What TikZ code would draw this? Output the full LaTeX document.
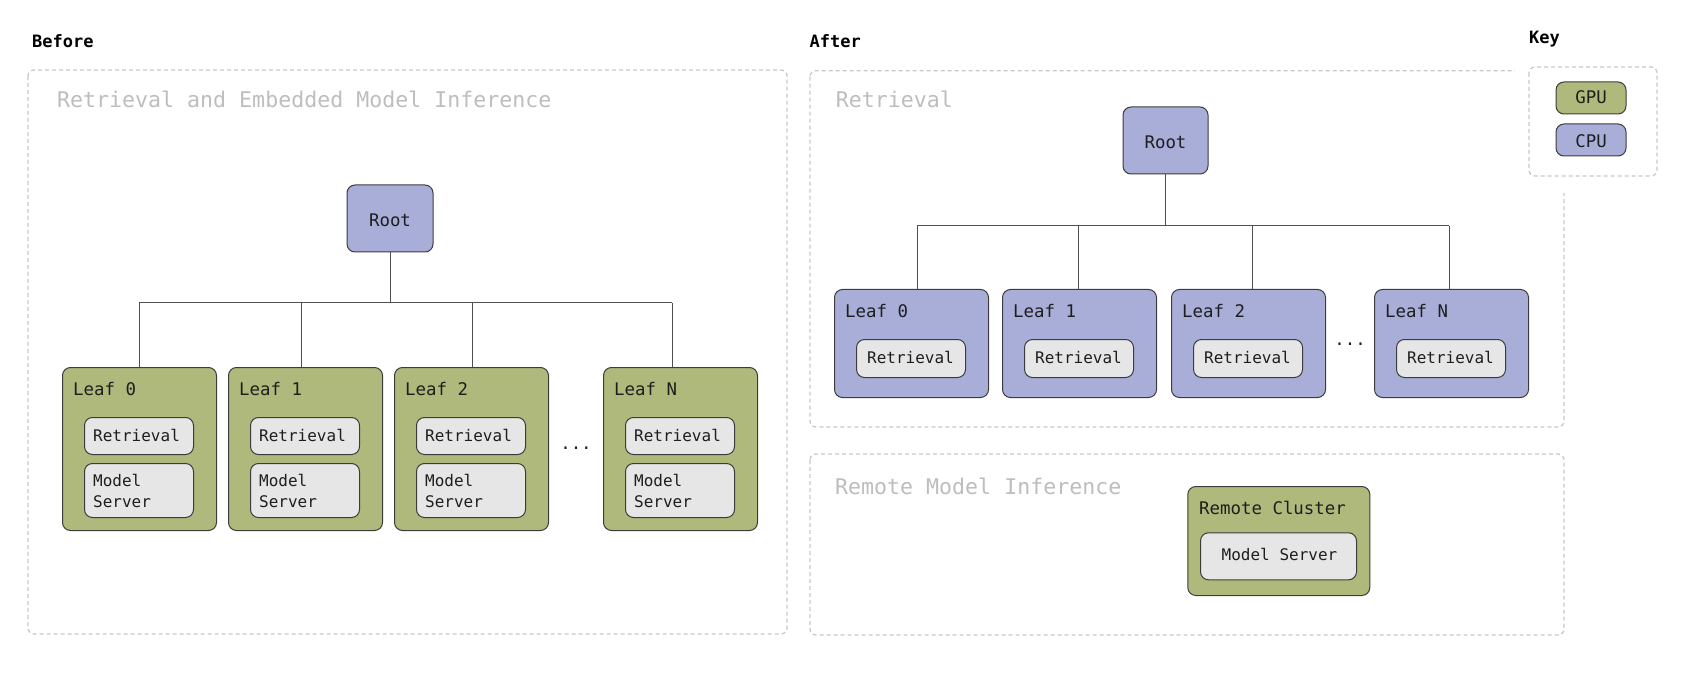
\documentclass[tikz,border=0pt]{standalone}
\usepackage{fontspec}
\setmainfont{DejaVu Sans Mono}
\definecolor{gpuc}{HTML}{B0B97C}
\definecolor{cpuc}{HTML}{A9AED9}
\definecolor{subc}{HTML}{E6E6E6}
\definecolor{bord}{HTML}{3C3C3C}
\definecolor{grpc}{HTML}{C8C8C8}
\definecolor{lblc}{HTML}{BDBDBD}
\definecolor{connc}{HTML}{505050}
\definecolor{txtc}{HTML}{1E1E1E}
\begin{document}
\begin{tikzpicture}[x=1pt,y=-1pt,
  grp/.style={draw=grpc, line width=1.3pt, dash pattern=on 4pt off 3pt, rounded corners=6pt},
  grplabel/.style={anchor=base west, text=lblc, font=\fontsize{21.6}{25}\selectfont, inner sep=0pt},
  heading/.style={anchor=base west, text=black, font=\bfseries\fontsize{17}{20}\selectfont, inner sep=0pt},
  boxbase/.style={draw=bord, line width=1pt, rounded corners=8pt, inner sep=0pt},
  cpubox/.style={boxbase, fill=cpuc},
  gpubox/.style={boxbase, fill=gpuc},
  subbox/.style={boxbase, fill=subc},
  tbig/.style={text=txtc, inner sep=0pt, font=\fontsize{17.4}{20}\selectfont},
  tmid/.style={text=txtc, inner sep=0pt, font=\fontsize{16}{21.7}\selectfont},
  conn/.style={draw=connc, line width=1pt}
]
\useasboundingbox (0,0) rectangle (1692,676);

% ---------------- Before ----------------
\node[heading] (before) at (32,47.3) {Before};
\draw[grp] (28,70) rectangle (787,634);
\node[grplabel] (lblBefore) at (57,107.3) {Retrieval and Embedded Model Inference};

\node[cpubox, minimum width=86, minimum height=67] (rootL) at (390,218.5) {};
\node[tbig, anchor=base] (rootLt) at (390,226.7) {Root};

\foreach \l/\s/\c in {62/0/139, 228/1/301, 394/2/472, 603/N/672} {
  \node[gpubox, minimum width=154, minimum height=163, anchor=north west] (leafL\s) at (\l,367) {};
  \node[tbig, anchor=base west] (leafLt\s) at (\l+11,395.7) {Leaf \s};
  \node[subbox, minimum width=109, minimum height=37, anchor=north west] (retL\s) at (\l+22,417) {};
  \node[tmid, anchor=base west] (retLt\s) at (\l+31,441) {Retrieval};
  \node[subbox, minimum width=109, minimum height=54, anchor=north west] (msL\s) at (\l+22,463) {};
  \node[tmid, anchor=base west, align=left] (msLt\s) at (\l+31,507.7) {Model\\Server};
  \coordinate (cxL\s) at (\c,303);
  \draw[conn] (leafL\s.north -| cxL\s) -- (cxL\s);
}
\draw[conn] (cxL0) -- (cxLN);
\draw[conn] (rootL.south) -- (rootL.south |- cxL0);
\node[tbig, anchor=base] (dotsL) at (576,449) {...};

% ---------------- After ----------------
\node[heading] (after) at (809.5,47.3) {After};
\draw[grp] (810,70.7) rectangle (1564,427);
\node[grplabel] (lblRet) at (835.7,107.3) {Retrieval};

\node[cpubox, minimum width=85, minimum height=67] (rootR) at (1165.5,140.5) {};
\node[tbig, anchor=base] (rootRt) at (1165.5,149) {Root};

\foreach \l/\s/\c in {834/0/917, 1002/1/1078, 1171/2/1252, 1374/N/1449} {
  \node[cpubox, minimum width=154, minimum height=108, anchor=north west] (leafR\s) at (\l,289) {};
  \node[tbig, anchor=base west] (leafRt\s) at (\l+11,317.3) {Leaf \s};
  \node[subbox, minimum width=109, minimum height=38, anchor=north west] (retR\s) at (\l+22,339) {};
  \node[tmid, anchor=base] (retRt\s) at (\l+76.5,363.3) {Retrieval};
  \coordinate (cxR\s) at (\c,226);
  \draw[conn] (leafR\s.north -| cxR\s) -- (cxR\s);
}
\draw[conn] (cxR0) -- (cxRN);
\draw[conn] (rootR.south) -- (rootR.south |- cxR0);
\node[tbig, anchor=base] (dotsR) at (1350,345) {...};

% lower group
\draw[grp] (810,454) rectangle (1564,635);
\node[grplabel] (lblRemote) at (835,494) {Remote Model Inference};
\node[gpubox, minimum width=182, minimum height=109, anchor=north west] (cluster) at (1187.3,486) {};
\node[tbig, anchor=base west] (clustert) at (1199,514) {Remote Cluster};
\node[subbox, minimum width=156, minimum height=47, anchor=north west] (msR) at (1200,532.3) {};
\node[tmid, anchor=base] (msRt) at (1279.5,560.7) {Model Server};

% ---------------- Key ----------------
\fill[white] (1515,58) rectangle (1600,193);
\node[heading] (keyt) at (1529,44) {Key};
\draw[grp] (1529,67) rectangle (1657,176);
\node[gpubox, minimum width=70, minimum height=32] (gpu) at (1591,98) {};
\node[tbig, anchor=base] (gput) at (1591,104) {GPU};
\node[cpubox, minimum width=70, minimum height=32] (cpu) at (1591,140) {};
\node[tbig, anchor=base] (cput) at (1591,147.3) {CPU};
\end{tikzpicture}
\end{document}
